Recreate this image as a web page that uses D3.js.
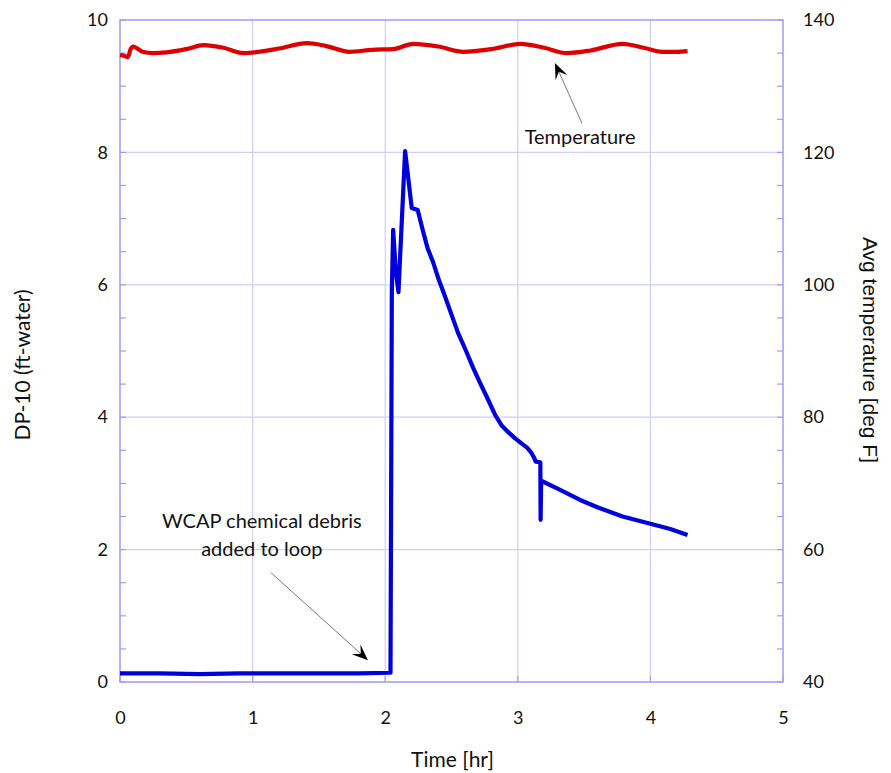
<!DOCTYPE html>
<html>
<head>
<meta charset="utf-8">
<script src="https://cdn.jsdelivr.net/npm/d3@7"></script>
<style>
  html, body { margin: 0; padding: 0; background: #fff; }
  svg { display: block; }
</style>
</head>
<body>
<svg id="chart" width="891" height="773"></svg>
<script>
// ---------------- data ----------------
const xTicks = [0, 1, 2, 3, 4, 5];
const yLeftTicks = [0, 2, 4, 6, 8, 10];
const yRightTicks = [40, 60, 80, 100, 120, 140];

// DP-10 (ft-water) vs time (hr)
const dpTime  = [0.00, 0.30, 0.60, 0.90, 1.20, 1.50, 1.80, 2.040, 2.050, 2.060, 2.080, 2.100, 2.150, 2.200, 2.245,
                 2.28, 2.32, 2.36, 2.40, 2.45, 2.50, 2.55, 2.61, 2.66, 2.71, 2.77, 2.83, 2.88, 2.93, 2.98, 3.03,
                 3.07, 3.10, 3.12, 3.135,
                 3.170, 3.172, 3.176, 3.30, 3.47, 3.60, 3.79, 4.00, 4.15, 4.28];
const dpValue = [0.13, 0.13, 0.12, 0.13, 0.13, 0.13, 0.13, 0.14, 5.90, 6.83, 6.20, 5.89, 8.02, 7.16, 7.13,
                 6.85, 6.55, 6.35, 6.10, 5.83, 5.55, 5.27, 5.00, 4.76, 4.54, 4.29, 4.03, 3.87, 3.77, 3.68, 3.60,
                 3.54, 3.47, 3.40, 3.33,
                 3.32, 2.45, 3.04, 2.92, 2.75, 2.64, 2.50, 2.39, 2.31, 2.22];

// Avg temperature (deg F) vs time (hr)
const tempTime  = [0.00, 0.03, 0.06, 0.08, 0.10, 0.13, 0.17, 0.25, 0.35, 0.50, 0.63, 0.78, 0.93, 1.05, 1.20,
                   1.41, 1.55, 1.73, 1.90, 2.06, 2.21, 2.40, 2.59, 2.80, 3.02, 3.20, 3.37, 3.55, 3.79, 3.95,
                   4.09, 4.20, 4.28];
const tempValue = [134.7, 134.6, 134.4, 135.6, 136.0, 135.7, 135.2, 135.0, 135.1, 135.6, 136.2, 135.8, 135.0, 135.2, 135.7,
                   136.5, 136.1, 135.2, 135.5, 135.6, 136.4, 136.0, 135.2, 135.6, 136.4, 135.8, 135.0, 135.4, 136.4, 135.8,
                   135.2, 135.2, 135.3];

// annotations (data coordinates: time, DP-10)
const annTempText = { label: "Temperature", t: 3.47, v: 8.13 };
const annTempArrow = { from: [3.484, 8.44], to: [3.28, 9.35] };
const annWcapText = { lines: ["WCAP chemical debris", "added to loop"], t: 1.07, v: [2.33, 1.90] };
const annWcapArrow = { from: [1.139, 1.65], to: [1.87, 0.33] };

// ---------------- layout ----------------
const svg = d3.select("#chart");
const L = 120, R = 783, T = 20, B = 682;
const x = d3.scaleLinear().domain([0, 5]).range([L, R]);
const yL = d3.scaleLinear().domain([0, 10]).range([B, T]);
const yR = d3.scaleLinear().domain([40, 140]).range([B, T]);

const gridColor = "#cfcff7";
const axisColor = "#9c9cf6";
const tickFont = "Lato, 'Open Sans', sans-serif";

// gridlines
const grid = svg.append("g");
grid.selectAll("line.vx").data(xTicks.slice(1, -1)).join("line")
  .attr("x1", d => x(d)).attr("x2", d => x(d)).attr("y1", T).attr("y2", B)
  .attr("stroke", gridColor).attr("stroke-width", 1.2);
grid.selectAll("line.hy").data(yLeftTicks.slice(1, -1)).join("line")
  .attr("y1", d => yL(d)).attr("y2", d => yL(d)).attr("x1", L).attr("x2", R)
  .attr("stroke", gridColor).attr("stroke-width", 1.2);

// minor ticks (inward)
const leftMinor = d3.range(0, 10.01, 0.5);
svg.append("g").selectAll("line").data(leftMinor).join("line")
  .attr("x1", L).attr("x2", L + 6).attr("y1", d => yL(d)).attr("y2", d => yL(d))
  .attr("stroke", axisColor).attr("stroke-width", 1.2);
const rightMinor = d3.range(40, 140.01, 5);
svg.append("g").selectAll("line").data(rightMinor).join("line")
  .attr("x1", R).attr("x2", R - 6).attr("y1", d => yR(d)).attr("y2", d => yR(d))
  .attr("stroke", axisColor).attr("stroke-width", 1.2);
svg.append("g").selectAll("line").data(xTicks).join("line")
  .attr("x1", d => x(d)).attr("x2", d => x(d)).attr("y1", B).attr("y2", B - 6)
  .attr("stroke", axisColor).attr("stroke-width", 1.2);

// frame
svg.append("rect").attr("x", L).attr("y", T).attr("width", R - L).attr("height", B - T)
  .attr("fill", "none").attr("stroke", axisColor).attr("stroke-width", 1.5);

// axes via d3 (labels only)
const axB = d3.axisBottom(x).tickValues(xTicks).tickSize(0).tickPadding(0).tickFormat(d3.format("d"));
const gB = svg.append("g").attr("transform", `translate(0,${B + 29})`).call(axB);
const axLf = d3.axisLeft(yL).tickValues(yLeftTicks).tickSize(0).tickPadding(0).tickFormat(d3.format("d"));
const gL = svg.append("g").attr("transform", `translate(${L - 12},0)`).call(axLf);
const axRt = d3.axisRight(yR).tickValues(yRightTicks).tickSize(0).tickPadding(0).tickFormat(d3.format("d"));
const gR = svg.append("g").attr("transform", `translate(${R + 20},0)`).call(axRt);
[gB, gL, gR].forEach(g => {
  g.select(".domain").remove();
  g.selectAll("text").attr("font-family", tickFont).attr("font-size", 18).attr("fill", "#111");
});

// axis titles
svg.append("text").attr("x", x(2.5) + 1).attr("y", 767)
  .attr("text-anchor", "middle").attr("font-family", tickFont).attr("font-size", 21).attr("fill", "#111")
  .text("Time [hr]");
svg.append("text").attr("transform", `translate(30,${yL(5) + 14}) rotate(-90)`)
  .attr("text-anchor", "middle").attr("font-family", tickFont).attr("font-size", 21).attr("fill", "#111")
  .text("DP-10 (ft-water)");
svg.append("text").attr("transform", `translate(863,${yL(5) - 1}) rotate(90)`)
  .attr("text-anchor", "middle").attr("font-family", "'Liberation Sans', Arial, sans-serif").attr("font-size", 21).attr("fill", "#111")
  .text("Avg temperature [deg F]");

// series
const dpData = dpTime.map((t, i) => [t, dpValue[i]]);
const tempData = tempTime.map((t, i) => [t, tempValue[i]]);
svg.append("path").datum(tempData)
  .attr("d", d3.line().x(d => x(d[0])).y(d => yR(d[1])).curve(d3.curveMonotoneX))
  .attr("fill", "none").attr("stroke", "#dd0000").attr("stroke-width", 4.2).attr("stroke-linejoin", "round");
svg.append("path").datum(dpData)
  .attr("d", d3.line().x(d => x(d[0])).y(d => yL(d[1])))
  .attr("fill", "none").attr("stroke", "#0000dd").attr("stroke-width", 4.2).attr("stroke-linejoin", "round");

// annotations
function arrow(a) {
  const x1 = x(a.from[0]), y1 = yL(a.from[1]), x2 = x(a.to[0]), y2 = yL(a.to[1]);
  const ang = Math.atan2(y2 - y1, x2 - x1);
  const len = 16, wid = 6.5;
  svg.append("line").attr("x1", x1).attr("y1", y1)
    .attr("x2", x2 - Math.cos(ang) * 8).attr("y2", y2 - Math.sin(ang) * 8)
    .attr("stroke", "#777").attr("stroke-width", 1);
  const bx = x2 - Math.cos(ang) * len, by = y2 - Math.sin(ang) * len;
  const mx = x2 - Math.cos(ang) * len * 0.6, my = y2 - Math.sin(ang) * len * 0.6;
  const px = -Math.sin(ang), py = Math.cos(ang);
  const p = d3.path();
  p.moveTo(x2, y2);
  p.lineTo(bx + px * wid, by + py * wid);
  p.lineTo(mx, my);
  p.lineTo(bx - px * wid, by - py * wid);
  p.closePath();
  svg.append("path").attr("d", p.toString()).attr("fill", "#000");
}
arrow(annTempArrow);
arrow(annWcapArrow);

svg.append("text").attr("x", x(annTempText.t)).attr("y", yL(annTempText.v))
  .attr("text-anchor", "middle").attr("font-family", tickFont).attr("font-size", 20).attr("fill", "#111")
  .text(annTempText.label);
svg.append("g").selectAll("text").data(annWcapText.lines).join("text")
  .attr("x", x(annWcapText.t)).attr("y", (d, i) => yL(annWcapText.v[i]))
  .attr("text-anchor", "middle").attr("font-family", tickFont).attr("font-size", 20).attr("fill", "#111")
  .text(d => d);
</script>
</body>
</html>
